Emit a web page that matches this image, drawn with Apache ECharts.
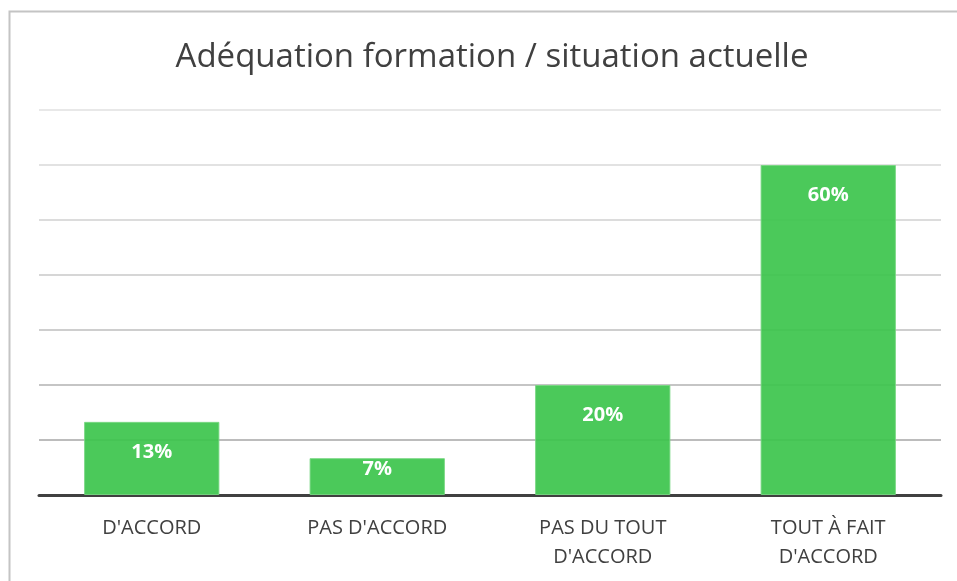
<!DOCTYPE html>
<html>
<head>
<meta charset="utf-8">
<script src="https://cdn.jsdelivr.net/npm/echarts@6/dist/echarts.min.js"></script>
<style>
  html, body { margin: 0; padding: 0; background: #fff; }
  #Chart1 { width: 957px; height: 581px; }
</style>
</head>
<body>
<div id="Chart1"></div>
<script>
const titleText = "Adéquation formation / situation actuelle";
const categories = ["D'ACCORD", "PAS D'ACCORD", "PAS DU TOUT\nD'ACCORD", "TOUT À FAIT\nD'ACCORD"];
const percentages = [13.3, 6.7, 20, 60];
const yTicks = [0, 10, 20, 30, 40, 50, 60, 70];

// gridlines get lighter towards the top in the original
const gridColors = ["#a6a6a6", "#a6a6a6", "#b2b2b2", "#bebebe", "#c8c8c8", "#d0d0d0", "#d9d9d9", "#e0e0e0"];

const myChart = echarts.init(document.getElementById("Chart1"));

// short bars get their label pushed up against the top edge
const barData = percentages.map((v) => ({
  value: v,
  label: { distance: v < 10 ? 1 : 20 },
}));

const option = {
  backgroundColor: "#fff",
  animation: false,
  title: {
    text: titleText,
    left: 487,
    textAlign: "center",
    top: 36,
    textStyle: {
      fontFamily: "Open Sans",
      fontWeight: "normal",
      fontSize: 33,
      color: "#404040",
    },
  },
  graphic: [
    {
      type: "rect",
      shape: { x: 9.5, y: 11.5, width: 960, height: 600 },
      style: { fill: "none", stroke: "#c4c4c4", lineWidth: 2 },
      silent: true,
    },
  ],
  grid: { left: 39, right: 16, top: 110, bottom: 86 },
  xAxis: {
    type: "category",
    data: categories,
    axisTick: { show: false },
    axisLine: { lineStyle: { color: "#404040", width: 3 } },
    axisLabel: {
      fontFamily: "Open Sans",
      fontSize: 20,
      color: "#404040",
      margin: 19,
      lineHeight: 29,
      interval: 0,
    },
  },
  yAxis: {
    type: "value",
    min: yTicks[0],
    max: yTicks[yTicks.length - 1],
    interval: 10,
    axisLabel: { show: false },
    axisLine: { show: false },
    axisTick: { show: false },
    splitLine: { lineStyle: { color: gridColors, width: 1.5 } },
  },
  series: [
    {
      name: "Adéquation",
      type: "bar",
      data: barData,
      barCategoryGap: "40%",
      itemStyle: {
        color: "rgba(60, 196, 76, 0.92)",
        borderColor: "rgba(120, 215, 130, 0.9)",
        borderWidth: 1,
      },
      label: {
        show: true,
        position: "insideTop",
        formatter: (p) => Math.round(p.value) + "%",
        fontFamily: "Open Sans",
        fontWeight: "bold",
        fontSize: 20,
        color: "#fff",
      },
    },
  ],
};

myChart.setOption(option);
</script>
</body>
</html>
